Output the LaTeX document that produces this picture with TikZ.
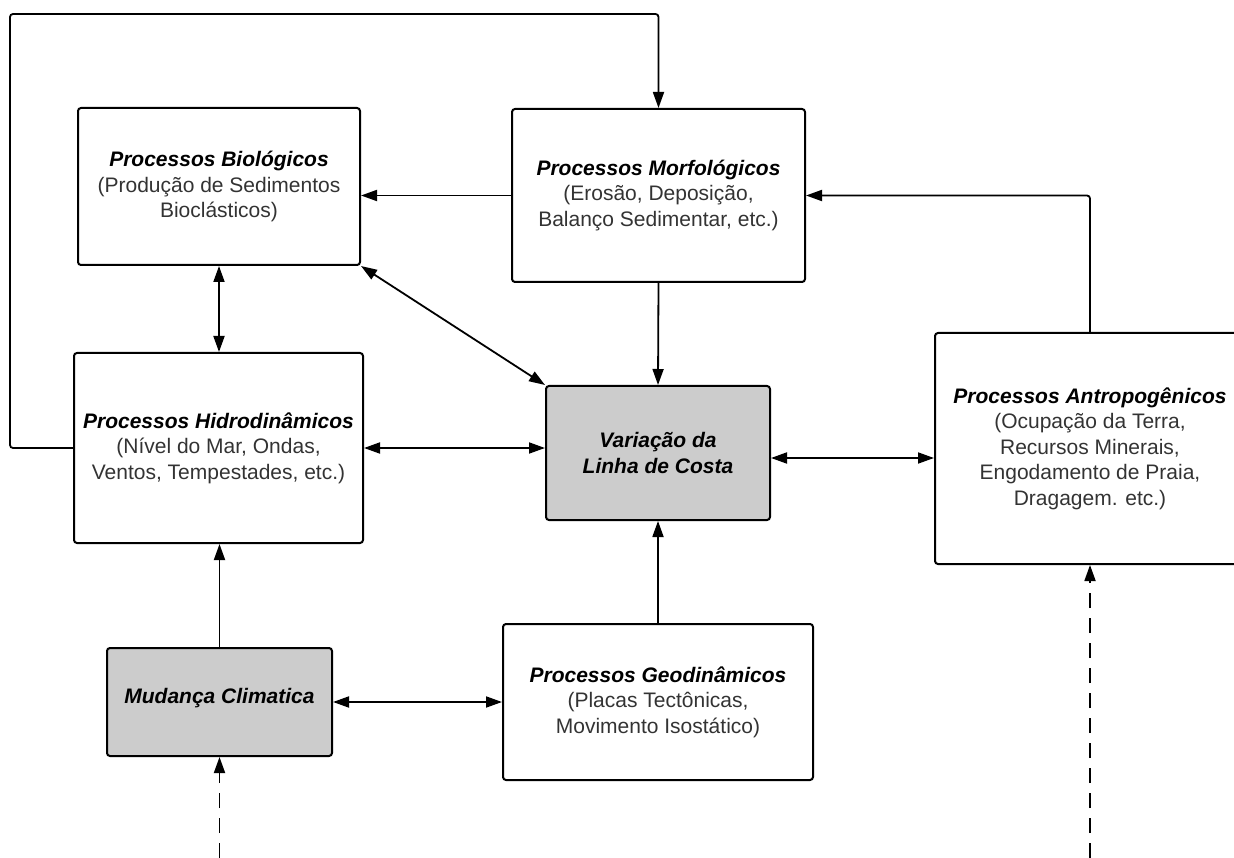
\documentclass[tikz,border=0pt]{standalone}
\usepackage{fontspec}
\setmainfont{Liberation Sans}
\usetikzlibrary{arrows.meta}
\definecolor{boxgray}{HTML}{CCCCCC}
\definecolor{textgray}{HTML}{333333}
\newcommand{\titulo}[1]{{\color{black}\bfseries\itshape #1}}
\tikzset{
  % caixas dos processos
  procbox/.style={draw,line width=2pt,rounded corners=3pt,align=center,inner sep=2pt,
    font=\fontsize{21}{25.5}\selectfont,text=textgray},
  mainbox/.style={procbox,fill=boxgray},
  % ligacoes
  % uso: \draw[conn] (a) -- (b);  ou  \draw[biconn] (a) -- (b);
  conn/.style={line width=1.8pt,-{Triangle[length=16pt,width=11pt]}},
  biconn/.style={line width=1.8pt,{Triangle[length=16pt,width=11pt]}-{Triangle[length=16pt,width=11pt]}},
  extern/.style={conn,dash pattern=on 15pt off 10pt},
}
\begin{document}
\begin{tikzpicture}[x=1pt,y=-1pt]
  \useasboundingbox (0,0) rectangle (1234,858);
  \node[procbox,minimum width=282,minimum height=157] (bio) at (219,186.5)
    {\titulo{Processos Biológicos}\\(Produção de Sedimentos\\Bioclásticos)};
  \node[procbox,minimum width=293,minimum height=173] (morf) at (658.5,195.5)
    {\titulo{Processos Morfológicos}\\(Erosão, Deposição,\\Balanço Sedimentar, etc.)};
  \node[procbox,minimum width=289,minimum height=190] (hidro) at (218.5,448)
    {\titulo{Processos Hidrodinâmicos}\\(Nível do Mar, Ondas,\\Ventos, Tempestades, etc.)};
  \node[mainbox,minimum width=224,minimum height=134] (var) at (658,453)
    {\titulo{Variação da}\\\titulo{Linha de Costa}};
  \node[procbox,minimum width=310,minimum height=231] (antro) at (1090,448.5)
    {\titulo{Processos Antropogênicos}\\(Ocupação da Terra,\\Recursos Minerais,\\Engodamento de Praia,\\Dragagem. etc.)};
  \node[mainbox,minimum width=225,minimum height=108] (mud) at (219.5,702)
    {\titulo{Mudança Climatica}\\[-13pt]};
  \node[procbox,minimum width=310,minimum height=156] (geo) at (658,702)
    {\titulo{Processos Geodinâmicos}\\(Placas Tectônicas,\\Movimento Isostático)};
  \coordinate (loop) at (10,14);
  \coordinate (climin) at (219.5,858);
  \coordinate (antroin) at (1090,858);
  \draw[conn,rounded corners=3pt] (hidro.west) -| (loop) -| (morf.north);
  \draw[conn] (morf.west) -- (morf.west -| bio.east);
  \draw[biconn] (bio.south) -- (bio.south |- hidro.north);
  \draw[biconn] (bio.south east) -- (var.north west);
  \draw[conn] (morf.south) -- (var.north);
  \draw[biconn] (hidro.east) -- (hidro.east -| var.west);
  \draw[biconn] ([yshift=-5pt]var.east) -- ([yshift=-5pt]var.east -| antro.west);
  \draw[conn,rounded corners=3pt] (antro.north) |- (morf.east);
  \draw[conn] (mud.north) -- (mud.north |- hidro.south);
  \draw[biconn] (mud.east) -- (geo.west);
  \draw[conn] (geo.north) -- (var.south);
  \draw[extern] (climin) -- (mud.south);
  \draw[extern] (antroin) -- (antro.south);
\end{tikzpicture}
\end{document}
